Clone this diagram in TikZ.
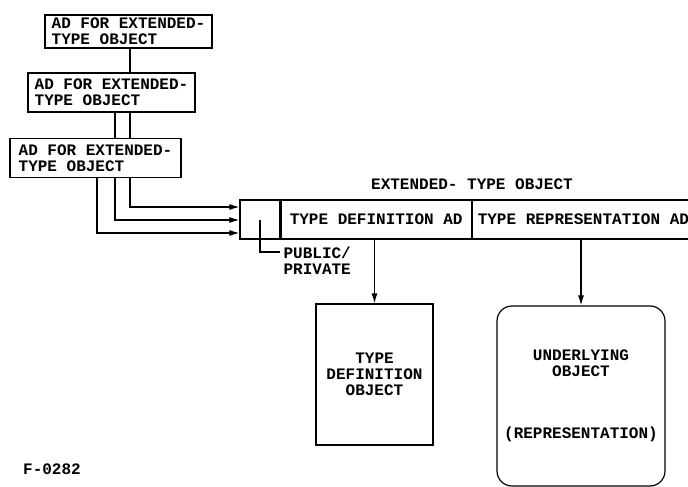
\documentclass[tikz,border=0pt]{standalone}
\usepackage{fontspec}
\setmonofont{Liberation Mono}
\usetikzlibrary{arrows.meta,positioning}

\newcommand{\typefont}{\ttfamily\bfseries\fontsize{16}{16}\selectfont}

\tikzset{
  adbox/.style={draw, rectangle, align=left, inner sep=0pt, font=\typefont},
  cell/.style={draw, rectangle, minimum height=39pt, inner sep=0pt, font=\typefont},
  objbox/.style={draw, rectangle, align=center, inner sep=0pt, font=\typefont},
  lbl/.style={inner sep=0pt, align=left, font=\typefont},
}

\begin{document}
\begin{tikzpicture}[x=1pt, y=-1pt, line width=1.2pt, >={Latex[length=10pt,width=6pt]}]
            \useasboundingbox (0,0) rectangle (688,487);
            \clip (0,0) rectangle (688,487);

            % ADs
            \node[adbox, minimum width=167, minimum height=33] (ad1) at (128.5,31.5) {AD FOR EXTENDED-\\TYPE OBJECT};
            \node[adbox, minimum width=167, minimum height=39] (ad2) at (111.5,92.5) {AD FOR EXTENDED-\\TYPE OBJECT};
            \node[adbox, minimum width=171, minimum height=39] (ad3) at (95.5,158) {AD FOR EXTENDED-\\TYPE OBJECT};

            % Extended-type object
            \node[cell, minimum width=40] (pp) at (260,219.5) {};
            \node[cell, minimum width=190, right=0pt of pp] (tdad) {TYPE DEFINITION AD};
            \node[cell, minimum width=222, right=0pt of tdad] (trad) {TYPE REPRESENTATION AD};
            \node[lbl] (eto) at (472,184) {EXTENDED- TYPE OBJECT};
            \node[lbl, anchor=north west] (pub) at (283,246) {PUBLIC/\\PRIVATE};
            \coordinate (pubend) at (280,252);

            % Objects
            \node[objbox, minimum width=117, minimum height=141] (tdo) at (374.5,374.5) {TYPE\\DEFINITION\\OBJECT};
            \node[objbox, rounded corners=15pt, minimum width=168, minimum height=180] (uo) at (581,396) {UNDERLYING\\OBJECT\\[46pt](REPRESENTATION)};

            % Links
            \draw (ad1.south -| 130,0) -- (ad2.north -| 130,0);
            \draw (ad2.south -| 115,0) -- (ad3.north -| 115,0);
            \draw (ad2.south -| 130,0) -- (ad3.north -| 130,0);
            \draw[->] (ad3.south -| 130,0) |- (pp.west |- 0,207);
            \draw[->] (ad3.south -| 115,0) |- (pp.west |- 0,220);
            \draw[->] (ad3.south -| 97,0) |- (pp.west |- 0,233);
            \draw (pp.center) |- (pubend);
            \draw[->] (tdo.north |- tdad.south) -- (tdo.north);
            \draw[->] (uo.north |- trad.south) -- (uo.north);

            % Figure number
            \node[lbl] (fig) at (52,469) {F-0282};

        \end{tikzpicture}
\end{document}
